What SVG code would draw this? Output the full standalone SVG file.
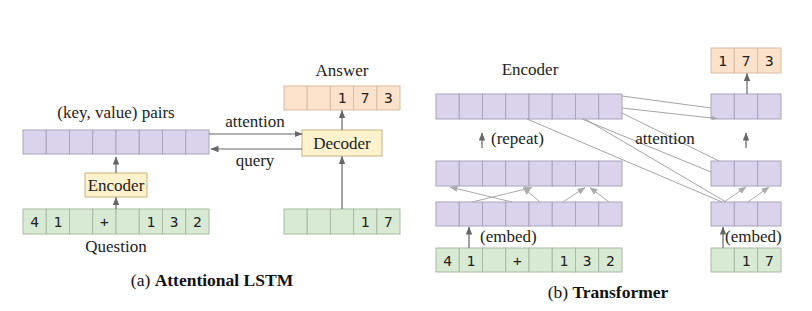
<svg xmlns="http://www.w3.org/2000/svg" width="812" height="311" viewBox="0 0 812 311">
<style>
.pu{fill:#dad3eb;stroke:#aaa3bd;stroke-width:1}
.gr{fill:#d8ead3;stroke:#a9b9a5;stroke-width:1}
.or{fill:#fce1cb;stroke:#d9bca6;stroke-width:1}
.box{fill:#fff2cc;stroke:#c8b27d;stroke-width:1}
.t{font-family:"Liberation Serif","Times New Roman",serif;font-size:17px;fill:#222}
.cap{font-family:"Liberation Serif","Times New Roman",serif;font-size:17.5px;fill:#111}
.m{font-family:"DejaVu Sans Mono","Liberation Mono",monospace;font-size:14.5px;fill:#222;text-anchor:middle}
.mid{text-anchor:middle}
.ar{stroke:#666;stroke-width:1.2;fill:none;marker-end:url(#ah)}
.lg{stroke:#aaa;stroke-width:1;fill:none;marker-end:url(#ahl)}
.at{stroke:#9a9a9a;stroke-width:0.9;fill:none}
</style>
<defs>
<marker id="ah" markerUnits="userSpaceOnUse" markerWidth="8" markerHeight="8" viewBox="0 0 8 8" refX="7.5" refY="4" orient="auto">
<path d="M0,0.8 L8,4 L0,7.2 Z" fill="#666"/>
</marker>
<marker id="ahl" markerUnits="userSpaceOnUse" markerWidth="8" markerHeight="8" viewBox="0 0 8 8" refX="7.5" refY="4" orient="auto">
<path d="M0,0.8 L8,4 L0,7.2 Z" fill="#aaa"/>
</marker>
</defs>
<rect width="812" height="311" fill="#fff"/>

<!-- (a) Attentional LSTM -->
<g id="a-answer">
<text class="t mid" x="342" y="76">Answer</text>
<rect class="or" x="284" y="86" width="23.2" height="24"/>
<rect class="or" x="307.2" y="86" width="23.2" height="24"/>
<rect class="or" x="330.4" y="86" width="23.2" height="24"/>
<rect class="or" x="353.6" y="86" width="23.2" height="24"/>
<rect class="or" x="376.8" y="86" width="23.2" height="24"/>
<text class="m" x="342" y="103">1</text>
<text class="m" x="365.2" y="103">7</text>
<text class="m" x="388.4" y="103">3</text>
</g>
<g id="a-kv">
<text class="t mid" x="116" y="118">(key, value) pairs</text>
<rect class="pu" x="23" y="130" width="23.25" height="24"/>
<rect class="pu" x="46.25" y="130" width="23.25" height="24"/>
<rect class="pu" x="69.5" y="130" width="23.25" height="24"/>
<rect class="pu" x="92.75" y="130" width="23.25" height="24"/>
<rect class="pu" x="116" y="130" width="23.25" height="24"/>
<rect class="pu" x="139.25" y="130" width="23.25" height="24"/>
<rect class="pu" x="162.5" y="130" width="23.25" height="24"/>
<rect class="pu" x="185.75" y="130" width="23.25" height="24"/>
</g>
<g id="a-decoder">
<rect class="box" x="302" y="130" width="80" height="26"/>
<text class="t mid" x="342" y="149">Decoder</text>
</g>
<g id="a-encoder">
<rect class="box" x="85" y="173" width="62" height="24"/>
<text class="t mid" x="116" y="191">Encoder</text>
</g>
<g id="a-question">
<rect class="gr" x="23" y="209" width="23.25" height="25"/>
<rect class="gr" x="46.25" y="209" width="23.25" height="25"/>
<rect class="gr" x="69.5" y="209" width="23.25" height="25"/>
<rect class="gr" x="92.75" y="209" width="23.25" height="25"/>
<rect class="gr" x="116" y="209" width="23.25" height="25"/>
<rect class="gr" x="139.25" y="209" width="23.25" height="25"/>
<rect class="gr" x="162.5" y="209" width="23.25" height="25"/>
<rect class="gr" x="185.75" y="209" width="23.25" height="25"/>
<text class="m" x="34.6" y="226.5">4</text>
<text class="m" x="57.9" y="226.5">1</text>
<text class="m" x="104.4" y="226.5">+</text>
<text class="m" x="150.9" y="226.5">1</text>
<text class="m" x="174.1" y="226.5">3</text>
<text class="m" x="197.4" y="226.5">2</text>
<text class="t mid" x="116" y="252">Question</text>
</g>
<g id="a-decin">
<rect class="gr" x="284" y="209" width="23.2" height="25"/>
<rect class="gr" x="307.2" y="209" width="23.2" height="25"/>
<rect class="gr" x="330.4" y="209" width="23.2" height="25"/>
<rect class="gr" x="353.6" y="209" width="23.2" height="25"/>
<rect class="gr" x="376.8" y="209" width="23.2" height="25"/>
<text class="m" x="365.2" y="226.5">1</text>
<text class="m" x="388.4" y="226.5">7</text>
</g>
<g id="a-connectors">
<line class="ar" x1="116" y1="209" x2="116" y2="197.5"/>
<line class="ar" x1="116" y1="173" x2="116" y2="157"/>
<line class="ar" x1="209" y1="134" x2="302" y2="134"/>
<line class="ar" x1="302" y1="149" x2="211" y2="149"/>
<line class="ar" x1="342" y1="130" x2="342" y2="110.5"/>
<line class="ar" x1="342" y1="209" x2="342" y2="156.5"/>
<text class="t mid" x="255" y="127">attention</text>
<text class="t mid" x="255" y="166">query</text>
</g>
<text class="cap mid" x="212" y="286">(a) <tspan font-weight="bold">Attentional LSTM</tspan></text>

<!-- (b) Transformer -->
<g id="b-out">
<rect class="or" x="711" y="48" width="23.33" height="25"/>
<rect class="or" x="734.33" y="48" width="23.33" height="25"/>
<rect class="or" x="757.67" y="48" width="23.33" height="25"/>
<text class="m" x="722.7" y="66">1</text>
<text class="m" x="746" y="66">7</text>
<text class="m" x="769.3" y="66">3</text>
</g>
<g id="b-enc-top">
<text class="t mid" x="530" y="75">Encoder</text>
<rect class="pu" x="436" y="94" width="23.25" height="25"/>
<rect class="pu" x="459.25" y="94" width="23.25" height="25"/>
<rect class="pu" x="482.5" y="94" width="23.25" height="25"/>
<rect class="pu" x="505.75" y="94" width="23.25" height="25"/>
<rect class="pu" x="529" y="94" width="23.25" height="25"/>
<rect class="pu" x="552.25" y="94" width="23.25" height="25"/>
<rect class="pu" x="575.5" y="94" width="23.25" height="25"/>
<rect class="pu" x="598.75" y="94" width="23.25" height="25"/>
</g>
<g id="b-enc-mid">
<rect class="pu" x="436" y="161" width="23.25" height="25"/>
<rect class="pu" x="459.25" y="161" width="23.25" height="25"/>
<rect class="pu" x="482.5" y="161" width="23.25" height="25"/>
<rect class="pu" x="505.75" y="161" width="23.25" height="25"/>
<rect class="pu" x="529" y="161" width="23.25" height="25"/>
<rect class="pu" x="552.25" y="161" width="23.25" height="25"/>
<rect class="pu" x="575.5" y="161" width="23.25" height="25"/>
<rect class="pu" x="598.75" y="161" width="23.25" height="25"/>
</g>
<g id="b-enc-bot">
<rect class="pu" x="436" y="202" width="23.25" height="24"/>
<rect class="pu" x="459.25" y="202" width="23.25" height="24"/>
<rect class="pu" x="482.5" y="202" width="23.25" height="24"/>
<rect class="pu" x="505.75" y="202" width="23.25" height="24"/>
<rect class="pu" x="529" y="202" width="23.25" height="24"/>
<rect class="pu" x="552.25" y="202" width="23.25" height="24"/>
<rect class="pu" x="575.5" y="202" width="23.25" height="24"/>
<rect class="pu" x="598.75" y="202" width="23.25" height="24"/>
</g>
<g id="b-enc-in">
<rect class="gr" x="436" y="248" width="23.25" height="24"/>
<rect class="gr" x="459.25" y="248" width="23.25" height="24"/>
<rect class="gr" x="482.5" y="248" width="23.25" height="24"/>
<rect class="gr" x="505.75" y="248" width="23.25" height="24"/>
<rect class="gr" x="529" y="248" width="23.25" height="24"/>
<rect class="gr" x="552.25" y="248" width="23.25" height="24"/>
<rect class="gr" x="575.5" y="248" width="23.25" height="24"/>
<rect class="gr" x="598.75" y="248" width="23.25" height="24"/>
<text class="m" x="447.6" y="265.5">4</text>
<text class="m" x="470.9" y="265.5">1</text>
<text class="m" x="517.4" y="265.5">+</text>
<text class="m" x="563.9" y="265.5">1</text>
<text class="m" x="587.1" y="265.5">3</text>
<text class="m" x="610.4" y="265.5">2</text>
</g>
<g id="b-dec-top">
<rect class="pu" x="711" y="94" width="23.33" height="25"/>
<rect class="pu" x="734.33" y="94" width="23.33" height="25"/>
<rect class="pu" x="757.67" y="94" width="23.33" height="25"/>
</g>
<g id="b-dec-mid">
<rect class="pu" x="711" y="161" width="23.33" height="25"/>
<rect class="pu" x="734.33" y="161" width="23.33" height="25"/>
<rect class="pu" x="757.67" y="161" width="23.33" height="25"/>
</g>
<g id="b-dec-bot">
<rect class="pu" x="711" y="202" width="23.33" height="24"/>
<rect class="pu" x="734.33" y="202" width="23.33" height="24"/>
<rect class="pu" x="757.67" y="202" width="23.33" height="24"/>
</g>
<g id="b-dec-in">
<rect class="gr" x="711" y="248" width="23.33" height="24"/>
<rect class="gr" x="734.33" y="248" width="23.33" height="24"/>
<rect class="gr" x="757.67" y="248" width="23.33" height="24"/>
<text class="m" x="746" y="265.5">1</text>
<text class="m" x="769.3" y="265.5">7</text>
</g>
<g id="b-connectors">
<line class="at" x1="622" y1="96" x2="711" y2="108"/>
<line class="at" x1="622" y1="108" x2="716" y2="118.5"/>
<path d="M712,116 L718,118.6 L712,120 Z" fill="#aaa"/>
<line class="at" x1="622" y1="113" x2="719" y2="161"/>
<line class="at" x1="582" y1="119" x2="711" y2="172"/>
<line class="at" x1="585" y1="119" x2="726" y2="202"/>
<line class="at" x1="527" y1="119" x2="722" y2="202"/>
<line class="lg" x1="512" y1="202" x2="450" y2="187"/>
<line class="lg" x1="472" y1="202" x2="532" y2="187.5"/>
<line class="lg" x1="540" y1="202" x2="523" y2="187.5"/>
<line class="lg" x1="563" y1="202" x2="585" y2="187.5"/>
<line class="lg" x1="609" y1="202" x2="590" y2="187.5"/>
<line class="lg" x1="724" y1="202" x2="746" y2="187"/>
<line class="lg" x1="748" y1="202" x2="769" y2="187"/>
<line class="ar" x1="482" y1="148" x2="482" y2="133"/>
<line class="ar" x1="746" y1="148" x2="746" y2="133"/>
<line class="ar" x1="747" y1="94" x2="747" y2="73.5"/>
<line class="ar" x1="469" y1="248" x2="469" y2="227"/>
<line class="ar" x1="723" y1="248" x2="723" y2="227"/>
<text class="t" x="491" y="144">(repeat)</text>
<text class="t mid" x="665" y="144">attention</text>
<text class="t" x="480" y="242">(embed)</text>
<text class="t" x="725" y="242">(embed)</text>
</g>
<text class="cap mid" x="608" y="298">(b) <tspan font-weight="bold">Transformer</tspan></text>
</svg>
